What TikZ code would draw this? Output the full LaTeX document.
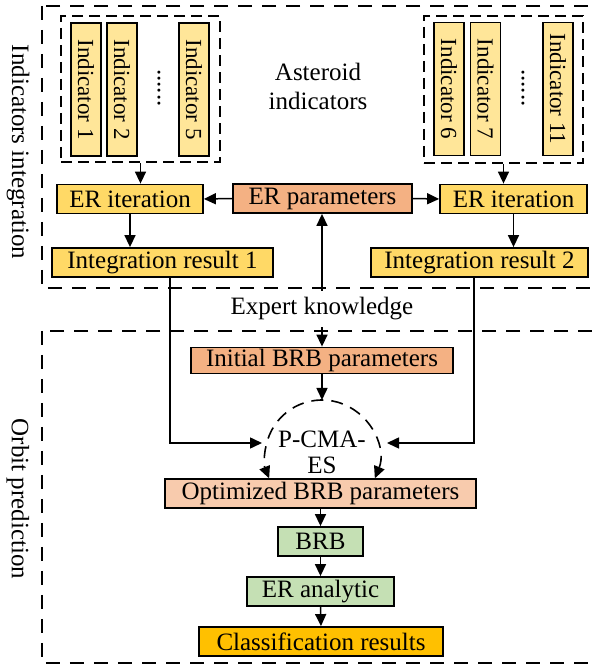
\documentclass[tikz,border=0pt]{standalone}
\usepackage{fontspec}
\setmainfont{Liberation Serif}
\usetikzlibrary{
  arrows.meta,
}
\definecolor{indyellow}{HTML}{FFE699}
\definecolor{itergold}{HTML}{FFD966}
\definecolor{paramorange}{HTML}{F4B183}
\definecolor{optpeach}{HTML}{F8CBAD}
\definecolor{brbgreen}{HTML}{C5E0B4}
\definecolor{clsamber}{HTML}{FFC000}

\begin{document}
\begin{tikzpicture}[x=0.5pt,y=0.5pt]
\tikzset{
  txt/.style={font=\fontsize{12.5}{13}\selectfont},
  box/.style={txt, draw, line width=0.9pt, inner sep=0pt, minimum height=14.5pt},
  indbox/.style={box, fill=indyellow, rotate=-90, minimum width=66.5pt, minimum height=15pt, font=\fontsize{11.5}{13}\selectfont},
  group/.style={draw, line width=0.8pt, dash pattern=on 7pt off 5pt},
  subgroup/.style={draw, line width=0.8pt, dash pattern=on 5.5pt off 3pt, inner sep=0pt},
  link/.style={line width=0.75pt, -{Triangle[length=6pt,width=5.5pt]}},
  looparc/.style={line width=0.8pt, dash pattern=on 6pt off 4pt, {Triangle[length=6pt,width=5.5pt]}-{Triangle[length=6pt,width=5.5pt]}},
}
\useasboundingbox (0,0) rectangle (591,666);

\draw[group] (42,660) rectangle (597,378);
\draw[group] (42,335) rectangle (597,3);
\node[txt, rotate=-90] (labint) at (18,514) {Indicators integration};
\node[txt, rotate=-90] (labpred) at (18,167) {Orbit prediction};

\node[subgroup, minimum width=79.5pt, minimum height=73pt] (inL) at (140.5,577) {};
\node[subgroup, minimum width=79.5pt, minimum height=73.5pt] (inR) at (503.5,576.5) {};
\node[indbox] (ind1) at (86,576.5) {Indicator 1};
\node[indbox] (ind2) at (122,576.5) {Indicator 2};
\node[indbox] (ind5) at (194,576.5) {Indicator 5};
\node[txt, rotate=-90] (dotsL) at (159,578) {......};
\node[indbox] (ind6) at (449,577) {Indicator 6};
\node[indbox] (ind7) at (485.5,577) {Indicator 7};
\node[indbox] (ind11) at (558,577) {Indicator 11};
\node[txt, rotate=-90] (dotsR) at (523,578) {......};
\node[txt, align=center, font=\fontsize{12.5}{14.5}\selectfont] (astlabel) at (318,580) {Asteroid\\indicators};

\node[box, fill=itergold, minimum width=73pt] (iterL) at (130,467) {ER iteration};
\node[box, fill=paramorange, minimum width=89.5pt] (param) at (322.5,467.5) {ER parameters};
\node[box, fill=itergold, minimum width=73.5pt] (iterR) at (513.5,467) {ER iteration};
\node[box, fill=itergold, minimum width=110.5pt] (resL) at (162.5,403.5) {Integration result 1};
\node[box, fill=itergold, minimum width=108.5pt] (resR) at (479.5,403.5) {Integration result 2};

\node[txt] (expert) at (322,357) {Expert knowledge};
\node[box, fill=paramorange, minimum width=131pt, minimum height=13pt] (init) at (322,305.5) {Initial BRB parameters};
\node[txt, align=center] (pcma) at (322,213.5) {P-CMA-\\ES};
\coordinate (cc) at (322,209);
\coordinate (ctop) at (322,266);
\coordinate (mL) at (262,223);
\coordinate (mR) at (387,223);
\node[box, fill=optpeach, minimum width=155.5pt] (opt) at (320.5,172.5) {Optimized BRB parameters};
\node[box, fill=brbgreen, minimum width=42.5pt] (brb) at (320.5,124.5) {BRB};
\node[box, fill=brbgreen, minimum width=73.5pt] (era) at (320.5,74.5) {ER analytic};
\node[box, fill=clsamber, minimum width=122pt] (cls) at (321,24.5) {Classification results};

\draw[link] (inL.south) -- (inL.south |- iterL.north);
\draw[link] (inR.south) -- (inR.south |- iterR.north);
\draw[link] (param.west) -- (iterL.east);
\draw[link] (param.east) -- (iterR.west);
\draw[link] (iterL.south) -- (iterL.south |- resL.north);
\draw[link] (iterR.south) -- (iterR.south |- resR.north);
\draw[link] (expert.north) -- (expert.north |- param.south);
\draw[link] (expert.south) -- (expert.south |- init.north);
\draw[link] (init.south) -- (ctop);
\draw[link] ([xshift=3.75pt]resL.south) |- (mL);
\draw[link] ([xshift=-2.75pt]resR.south) |- (mR);
\draw[looparc] ([shift={(-22:57)}]cc) arc[start angle=-22, end angle=202, radius=57];
\draw[link] (opt.south) -- (brb.north);
\draw[link] (brb.south) -- (era.north);
\draw[link] (era.south) -- (cls.north);
\end{tikzpicture}
\end{document}
